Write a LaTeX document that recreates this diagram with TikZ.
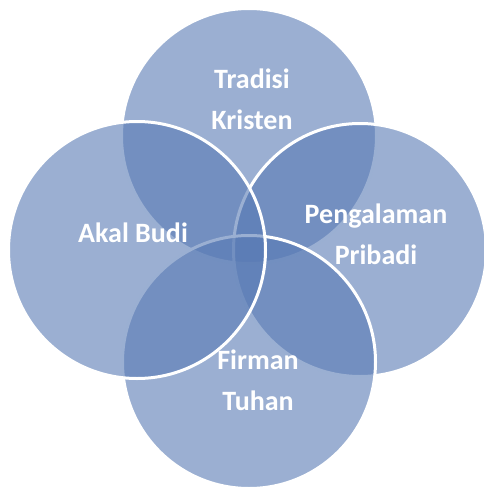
\documentclass[tikz,border=0pt]{standalone}
\usepackage{fontspec}
\setmainfont{Carlito}
\definecolor{lingkar}{RGB}{88,122,180}
\tikzset{
  lingkaran/.style={draw=white,line width=3pt,fill=lingkar,fill opacity=0.6},
  label/.style={text=white,font=\fontsize{28}{41}\selectfont\bfseries,align=center}
}
\begin{document}
\begin{tikzpicture}[x=1pt,y=-1pt]
      \useasboundingbox (0,0) rectangle (484,487);
      \draw[lingkaran] (249,136) circle (127.5);
      \draw[lingkaran] (360,250) circle (126.5);
      \draw[lingkaran] (249,362) circle (126.5);
      \draw[lingkaran] (137,250) circle (128.5);
      \node[label] (trad) at (252,99) {Tradisi\\Kristen};
      \node[label] (akal) at (133,233) {Akal Budi};
      \node[label] (peng) at (376,234) {Pengalaman\\Pribadi};
      \node[label] (firm) at (258,380) {Firman\\Tuhan};
    \end{tikzpicture}
\end{document}
